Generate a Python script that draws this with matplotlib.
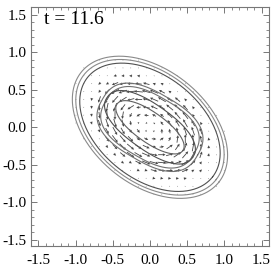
import numpy as np
import matplotlib
matplotlib.use("Agg")
import matplotlib.pyplot as plt
from matplotlib.ticker import MultipleLocator

plt.rcParams['font.family'] = ['Liberation Serif', 'DejaVu Serif']
plt.rcParams['axes.unicode_minus'] = False

# contour shapes: semi-axes, tilt (deg), squareness, grey level
cont_a = [1.18, 1.13, 1.07, 0.74, 0.69, 0.70, 0.54]
cont_b = [0.77, 0.73, 0.69, 0.46, 0.42, 0.30, 0.20]
cont_ang = [-38, -38, -38, -30, -30, -35, -35]
cont_p = [2.0, 2.0, 2.0, 2.6, 2.6, 2.3, 2.1]
cont_col = ['#8a8a8a', '#8a8a8a', '#505050', '#707070', '#707070', '#505050', '#606060']

# flow speed in bins of normalised radius (0 = centre, 1 = outer contour)
speed_edges = [0.0, 0.15, 0.3, 0.45, 0.6, 0.7, 0.8, 1.05]
speed_vals = [0.025, 0.06, 0.10, 0.12, 0.09, 0.04, 0.012]

label = 't = 11.6'
ticks = [-1.5, -1.0, -0.5, 0.0, 0.5, 1.0, 1.5]

fig = plt.figure(figsize=(2.79, 2.73), dpi=100)
ax = fig.add_axes([0.111, 0.099, 0.853, 0.875])

s = np.linspace(0, 2 * np.pi, 400)
for a, b, ang, p, c in zip(cont_a, cont_b, cont_ang, cont_p, cont_col):
    cu = a * np.sign(np.cos(s)) * np.abs(np.cos(s)) ** (2 / p)
    cv = b * np.sign(np.sin(s)) * np.abs(np.sin(s)) ** (2 / p)
    th = np.radians(ang)
    ax.plot(cu * np.cos(th) - cv * np.sin(th), cu * np.sin(th) + cv * np.cos(th),
            color=c, lw=0.8)

# arrow grid
g = np.arange(-1.1, 1.11, 0.105)
X, Y = np.meshgrid(g, g)
th = np.radians(-35)
U = X * np.cos(th) + Y * np.sin(th)
V = -X * np.sin(th) + Y * np.cos(th)
A, B = 1.15, 0.75
R = np.sqrt((U / A) ** 2 + (V / B) ** 2)
spd = np.zeros_like(R)
idx = np.digitize(R, speed_edges) - 1
ok = (idx >= 0) & (idx < len(speed_vals))
spd[ok] = np.array(speed_vals)[idx[ok]]
tu = -A * V / B
tv = B * U / A
n = np.hypot(tu, tv) + 1e-9
tu, tv = tu / n * spd, tv / n * spd
QX = tu * np.cos(th) - tv * np.sin(th)
QY = tu * np.sin(th) + tv * np.cos(th)
m = ok
ax.quiver(X[m], Y[m], QX[m], QY[m], angles='xy', scale_units='xy', scale=1,
          color='#444444', width=0.0035, headwidth=3.5, headlength=3.5,
          headaxislength=3, minlength=0.4, pivot='middle')

ax.text(-1.43, 1.38, label, fontsize=14)

ax.set_xlim(-1.6, 1.6)
ax.set_ylim(-1.58, 1.6)
ax.set_xticks(ticks)
ax.set_yticks(ticks)
ax.set_xticklabels([f'{t:.1f}' for t in ticks])
ax.set_yticklabels([f'{t:.1f}' for t in ticks])
ax.xaxis.set_minor_locator(MultipleLocator(0.1))
ax.yaxis.set_minor_locator(MultipleLocator(0.1))
ax.tick_params(which='both', direction='in', top=True, right=True,
               labelsize=11, color='#777777')
ax.tick_params(which='major', length=4, width=0.7)
ax.tick_params(axis='x', which='major', pad=6)
ax.tick_params(axis='y', which='major', pad=3)
ax.tick_params(which='minor', length=2, width=0.6)
for sp in ax.spines.values():
    sp.set_color('#777777')
    sp.set_linewidth(0.8)

fig.savefig('out.png', dpi=100)
